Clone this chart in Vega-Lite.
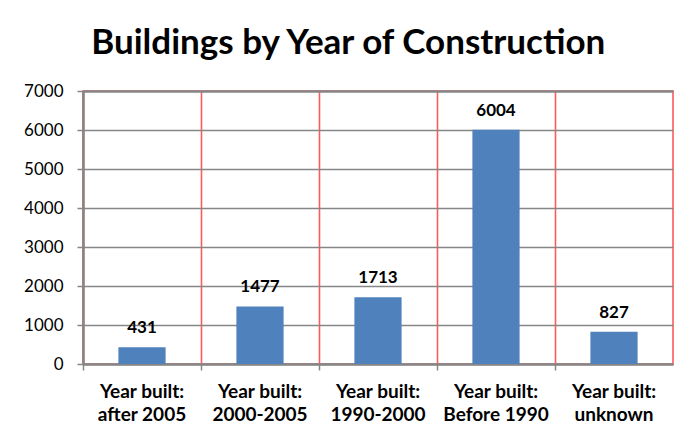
{
  "$schema": "https://vega.github.io/schema/vega-lite/v6.json",
  "width": 590,
  "height": 273,
  "autosize": {"type": "none"},
  "padding": {"left": 83, "top": 91, "right": 24, "bottom": 75},
  "background": "white",
  "config": {
    "font": "Lato",
    "view": {"stroke": "#ff5a5a", "strokeWidth": 1.6}
  },
  "title": {
    "text": "Buildings by Year of Construction",
    "font": "Lato",
    "fontSize": 35,
    "fontWeight": "bold",
    "color": "#000000",
    "anchor": "middle",
    "frame": "bounds",
    "baseline": "alphabetic",
    "offset": -7
  },
  "data": {
    "values": [
      {"category": "Year built: after 2005", "count": 431},
      {"category": "Year built: 2000-2005", "count": 1477},
      {"category": "Year built: 1990-2000", "count": 1713},
      {"category": "Year built: Before 1990", "count": 6004},
      {"category": "Year built: unknown", "count": 827}
    ]
  },
  "encoding": {
    "x": {
      "field": "category",
      "type": "nominal",
      "sort": null,
      "scale": {"paddingInner": 0, "paddingOuter": 0},
      "axis": {
        "title": null,
        "labelAngle": 0,
        "labelExpr": "['Year built:', replace(datum.label, 'Year built: ', '')]",
        "labelFont": "Lato",
        "labelFontSize": 19,
        "labelFontWeight": "bold",
        "labelColor": "#000000",
        "labelLineHeight": 23,
        "labelPadding": 12,
        "labelBaseline": "top",
        "bandPosition": 0,
        "labelOverlap": false,
        "grid": true,
        "gridColor": "#ff5a5a",
        "gridWidth": 1.6,
        "gridOpacity": 1,
        "domainColor": "#868686",
        "domainWidth": 2.5,
        "tickColor": "#868686",
        "tickSize": 6,
        "tickWidth": 1.5
      }
    },
    "y": {
      "field": "count",
      "type": "quantitative",
      "scale": {"domain": [0, 7000], "nice": false},
      "axis": {
        "title": null,
        "values": [0, 1000, 2000, 3000, 4000, 5000, 6000, 7000],
        "format": "d",
        "labelFont": "Lato",
        "labelFontSize": 17,
        "labelColor": "#000000",
        "labelPadding": 14,
        "grid": true,
        "gridColor": "#868686",
        "gridWidth": {"condition": {"test": "datum.value === 7000", "value": 2.5}, "value": 1.5},
        "gridOpacity": 1,
        "domainColor": "#868686",
        "domainWidth": 2.5,
        "tickColor": "#868686",
        "tickSize": 6,
        "tickWidth": 1.5
      }
    }
  },
  "layer": [
    {
      "mark": {"type": "bar", "color": "#4f81bd", "width": {"band": 0.4}}
    },
    {
      "mark": {
        "type": "text",
        "font": "Lato",
        "fontSize": 17,
        "fontWeight": "bold",
        "color": "#000000",
        "baseline": "alphabetic",
        "dy": -14
      },
      "encoding": {"text": {"field": "count", "type": "quantitative", "format": "d"}}
    }
  ]
}
